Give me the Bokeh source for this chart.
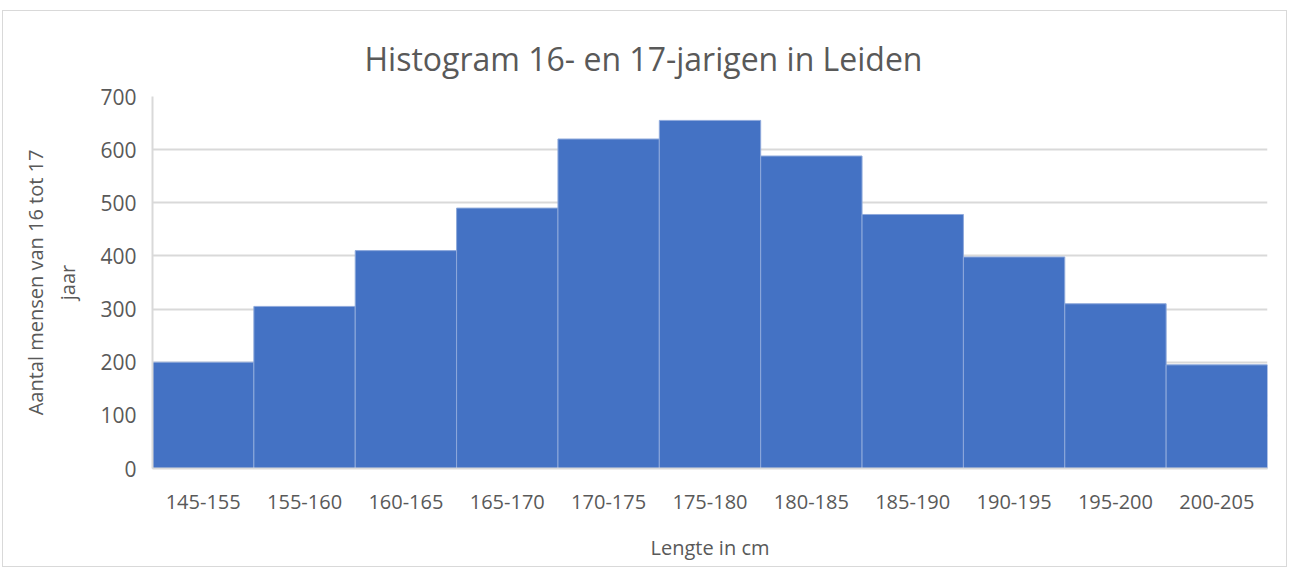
from bokeh.plotting import figure
from bokeh.models import FactorRange, Range1d, SingleIntervalTicker, Title
from bokeh.embed import file_html
from bokeh.resources import INLINE

categories = ["145-155", "155-160", "160-165", "165-170", "170-175", "175-180",
              "180-185", "185-190", "190-195", "195-200", "200-205"]
counts = [200, 305, 410, 490, 620, 655, 588, 478, 398, 310, 195]
title_text = "Histogram 16- en 17-jarigen in Leiden"

FONT = "Open Sans"
TXT = "#595959"

p = figure(x_range=FactorRange(*categories, range_padding=0),
           y_range=Range1d(0, 700),
           width=1283, height=555,
           frame_width=1115, frame_height=372,
           min_border_left=149, min_border_right=19,
           min_border_top=85, min_border_bottom=98,
           output_backend="svg", toolbar_location=None)

p.title = Title(text=title_text, align="left", offset=212,
                vertical_align="top", standoff=30,
                text_font=FONT, text_font_size="32px", text_font_style="normal",
                text_color=TXT)

p.vbar(x=categories, top=counts, width=1.0, fill_color="#4472C4",
       line_color="#8EA9DB", line_width=1)

p.outline_line_color = None
p.background_fill_color = "white"
p.border_fill_color = "white"
p.styles = {"border": "1px solid #D9D9D9", "margin-top": "10px", "margin-left": "2px"}

p.xgrid.grid_line_color = None
p.ygrid.grid_line_color = "#D9D9D9"
p.ygrid.grid_line_width = 2

p.yaxis.ticker = SingleIntervalTicker(interval=100)
p.yaxis.axis_line_color = "#D9D9D9"
p.yaxis.axis_line_width = 2
p.yaxis.major_tick_line_color = None
p.yaxis.minor_tick_line_color = None
p.yaxis.major_label_text_font = FONT
p.yaxis.major_label_text_font_size = "21px"
p.yaxis.major_label_text_color = TXT
p.yaxis.major_label_standoff = 10
p.yaxis.axis_label = "Aantal mensen van 16 tot 17\njaar"
p.yaxis.axis_label_text_font = FONT
p.yaxis.axis_label_text_font_size = "20px"
p.yaxis.axis_label_text_font_style = "normal"
p.yaxis.axis_label_text_color = TXT
p.yaxis.axis_label_standoff = 16

p.xaxis.axis_line_color = "#D9D9D9"
p.xaxis.axis_line_width = 2
p.xaxis.major_tick_line_color = None
p.xaxis.minor_tick_line_color = None
p.xaxis.major_label_text_font = FONT
p.xaxis.major_label_text_font_size = "20px"
p.xaxis.major_label_text_color = TXT
p.xaxis.major_label_standoff = 20
p.xaxis.axis_label = "Lengte in cm"
p.xaxis.axis_label_text_font = FONT
p.xaxis.axis_label_text_font_size = "20px"
p.xaxis.axis_label_text_font_style = "normal"
p.xaxis.axis_label_text_color = TXT
p.xaxis.axis_label_standoff = 22

open("out.html", "w").write(file_html(p, INLINE))
